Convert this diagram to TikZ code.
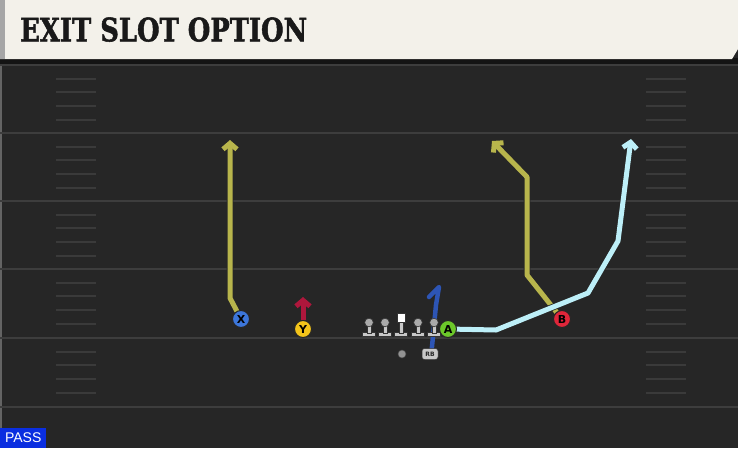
\documentclass[tikz,border=0pt]{standalone}
\usepackage{fontspec}
\setmainfont{DejaVu Sans}
\newfontfamily\titlefont{DejaVu Serif}[BoldFeatures={FakeBold=1.6}]
\newfontfamily\passfont{Liberation Sans}
\usetikzlibrary{arrows.meta}
\definecolor{field}{HTML}{262626}
\definecolor{yardline}{HTML}{3D3D3D}
\definecolor{hashc}{HTML}{3A3A3A}
\definecolor{header}{HTML}{F3F1EA}
\definecolor{olive}{HTML}{B8B54C}
\definecolor{cyanr}{HTML}{BDEFF8}
\definecolor{redr}{HTML}{AE173C}
\definecolor{bluer}{HTML}{2D55B5}
\definecolor{xblue}{HTML}{3C76DA}
\definecolor{yyel}{HTML}{F3C41A}
\definecolor{agreen}{HTML}{6CC82A}
\definecolor{bred}{HTML}{E0263A}
\definecolor{passblue}{HTML}{0A2EE0}
\definecolor{linem}{HTML}{C8C8C8}
\tikzset{
  route/.style={line width=5pt, line join=round,
    -{Straight Barb[length=6pt,width=14pt,line width=5pt]},
    preaction={draw=black!85, line width=6.6pt, -{Straight Barb[length=6.6pt,width=15.5pt,line width=6.6pt]}}},
  player/.style={circle, draw=black!85, line width=1pt, minimum size=17pt, inner sep=0pt,
    font=\bfseries\fontsize{11}{11}\selectfont, text=black},
  yard/.style={draw=yardline, line width=2pt},
  hashm/.style={draw=hashc, line width=1.5pt},
  lineman/.style={fill=linem, draw=black!80, line width=0.6pt},
}
\begin{document}
\begin{tikzpicture}[x=1pt,y=-1pt]
\useasboundingbox (0,0) rectangle (738,448);
% field
\fill[field] (0,0) rectangle (738,448);
\fill[yardline!80] (0,64) rectangle (2,448);
% yard lines
\foreach \y in {65,133,201,269,338,407} \draw[yard] (0,\y) -- (738,\y);
% hash marks
\foreach \b in {65,133,201,269,338} {
  \foreach \o in {14,27,41,55} {
    \draw[hashm] (56,\b+\o) -- (96,\b+\o);
    \draw[hashm] (646,\b+\o) -- (686,\b+\o);
  }
}
% header
\fill[black!92] (0,58) rectangle (738,64);
\fill[header] (0,0) -- (738,0) -- (738,49) -- (732,59) -- (0,59) -- cycle;
\fill[black!35] (0,0) rectangle (5,59);
\node[anchor=south west, inner sep=0pt] (title) at (20,42)
  {\resizebox{287pt}{24pt}{\color{black!90}\titlefont\bfseries EXIT SLOT OPTION}};

% coordinates of routes
\coordinate (x1) at (230,298);
\coordinate (x2) at (230,140);
\coordinate (y2) at (303,297);
\coordinate (b1) at (527,275);
\coordinate (b2) at (527,177);
\coordinate (b3) at (492,141);
\coordinate (a1) at (496,330);
\coordinate (a2) at (588,293);
\coordinate (a3) at (618,241);
\coordinate (a4) at (631,139);
\coordinate (r1) at (436,305);
\coordinate (r2) at (439,287);
\coordinate (r3) at (429,297);

% player placeholders for routes
\node[player, draw=none] (X0) at (241,319) {};
\node[player, draw=none] (Y0) at (303,329) {};
\node[player, draw=none] (A0) at (448,329) {};
\node[player, draw=none] (B0) at (562,319) {};

% routes
\draw[route, olive] (X0.center) -- (x1) -- (x2);
\draw[route, redr] (Y0.north) -- (y2);
\draw[route, olive] (B0.center) -- (b1) -- (b2) -- (b3);
\draw[route, cyanr] (A0.center) -- (a1) -- (a2) -- (a3) -- (a4);
% RB route
\draw[bluer, line width=4.5pt, line join=round, line cap=round] (431,357) -- (r1) -- (r2) -- (r3);

% linemen
\foreach \lx in {369,385,418,434} {
  \fill[lineman] (\lx-6.5,332) rectangle (\lx+6.5,336);
  \fill[lineman] (\lx-2,324) rectangle (\lx+2,333);
  \fill[lineman, fill=linem!85!black] (\lx,322.5) circle (4.3);
}
\fill[lineman] (394.5,332) rectangle (407.5,336);
\fill[lineman] (399,322) rectangle (403,333);
\fill[white, draw=black!80, line width=0.6pt] (397,313) rectangle (405.5,322.5);
% QB and RB
\node[circle, fill=gray!85, draw=black!70, line width=0.5pt, minimum size=8pt, inner sep=0pt] (qb) at (402,354) {};
\node[fill=linem, draw=black!80, line width=0.5pt, rounded corners=2.5pt, minimum width=16pt, minimum height=11pt,
  inner sep=0pt, font=\bfseries\fontsize{6}{6}\selectfont, text=black!85] (rb) at (430,354) {RB};

% players
\node[player, fill=xblue] (X) at (241,319) {X};
\node[player, fill=yyel] (Y) at (303,329) {Y};
\node[player, fill=agreen] (A) at (448,329) {A};
\node[player, fill=bred] (B) at (562,319) {B};

% PASS label
\node[fill=passblue, text=white, anchor=south west, inner xsep=3pt, inner ysep=2pt,
  minimum height=20pt, minimum width=46pt, font=\passfont\fontsize{14}{14}\selectfont] (pass) at (0,448) {PASS};
\end{tikzpicture}
\end{document}
